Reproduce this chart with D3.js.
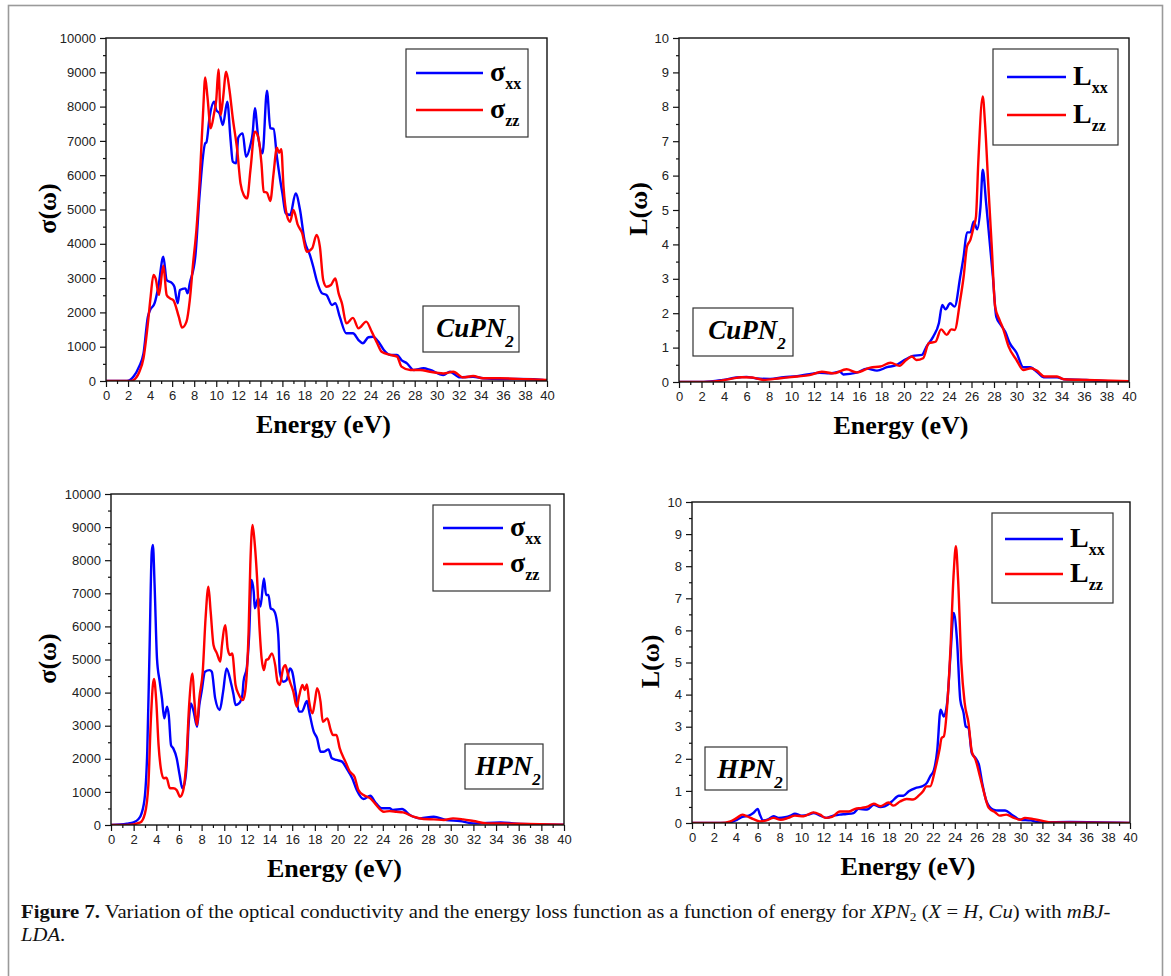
<!DOCTYPE html>
<html>
<head>
<meta charset="utf-8">
<script src="https://cdn.jsdelivr.net/npm/d3@7"></script>
<style>
  html, body { margin: 0; padding: 0; background: #fff; }
  svg { display: block; }
</style>
</head>
<body>
<svg id="fig" width="1171" height="976"></svg>
<script>
// ---- Optical conductivity, CuPN2 (energy eV, sigma) ----
const cuSigmaXX = [[0,0],[1.9,0],[2.5,130],[3.0,420],[3.4,800],[3.8,1875],[4.0,2070],[4.4,2260],[4.75,2750],[5.2,3625],[5.5,2945],[6.0,2850],[6.2,2750],[6.5,2265],[6.7,2650],[7.2,2700],[7.4,2555],[7.6,2850],[8.1,3625],[8.5,5470],[9.0,6930],[9.1,6950],[9.4,7700],[9.8,8145],[10.0,7900],[10.3,7800],[10.6,7460],[11.0,8145],[11.3,7025],[11.5,6395],[11.8,6345],[12.0,7100],[12.4,7220],[12.7,6540],[13.1,6880],[13.3,7220],[13.5,7950],[13.8,7120],[14.2,6640],[14.6,8465],[14.9,7370],[15.2,7350],[15.5,6540],[15.8,5860],[16.0,5470],[16.3,4890],[16.7,4840],[17.2,5470],[17.6,4985],[18.0,4110],[18.5,3670],[18.8,3330],[19.1,2945],[19.6,2555],[20.0,2510],[20.5,2215],[20.8,2265],[21.2,1875],[21.8,1390],[22.4,1390],[22.9,1195],[23.3,1100],[23.8,1275],[24.2,1290],[24.7,1150],[25.2,905],[25.8,760],[26.4,760],[26.8,610],[27.3,515],[27.9,320],[28.8,370],[29.4,320],[30.6,175],[31.2,270],[32.1,105],[33.3,125],[34.2,80],[35.7,60],[37.2,60],[38.8,50],[40,10]];
const cuSigmaZZ = [[0,0],[2.2,0],[2.5,30],[3.0,250],[3.4,660],[3.8,1680],[4.05,2460],[4.3,3090],[4.5,2990],[4.8,2510],[5.2,3360],[5.5,2510],[5.8,2410],[6.1,2360],[6.6,1875],[6.9,1555],[7.3,1730],[7.6,2360],[7.9,3430],[8.2,4400],[8.5,5860],[8.8,7800],[9.0,8850],[9.2,8290],[9.5,7370],[9.8,7800],[10.0,8190],[10.2,9085],[10.4,7755],[10.6,8190],[10.9,9020],[11.2,8485],[11.5,7660],[11.9,6735],[12.2,5760],[12.5,5420],[12.8,5325],[13.1,6150],[13.5,7270],[13.8,7120],[14.1,6345],[14.3,5520],[14.6,5490],[14.9,5250],[15.2,6055],[15.5,6800],[15.7,6655],[15.9,6755],[16.1,5665],[16.4,4840],[16.7,4645],[17.0,4985],[17.4,4550],[17.8,4305],[18.2,3770],[18.7,3870],[19.1,4255],[19.4,3915],[19.7,2945],[20.0,2750],[20.4,2800],[20.8,2990],[21.1,2555],[21.4,2265],[21.8,1680],[22.4,1840],[22.9,1535],[23.6,1730],[24.1,1440],[24.6,1100],[25.0,855],[25.8,760],[26.4,710],[26.8,420],[27.6,320],[28.5,320],[29.4,270],[30.0,240],[30.6,220],[31.5,270],[32.4,105],[33.3,145],[34.2,80],[35.7,80],[38.2,50],[40,30]];

// ---- Energy loss function, CuPN2 ----
const cuLossXX = [[0,0],[2.2,0],[3.9,0.06],[5.1,0.13],[6.0,0.15],[6.9,0.10],[8.1,0.09],[9.3,0.14],[10.5,0.17],[11.6,0.23],[12.5,0.27],[13.4,0.25],[14.3,0.30],[14.6,0.22],[15.8,0.27],[16.7,0.39],[17.6,0.33],[18.5,0.43],[19.3,0.49],[19.9,0.61],[20.8,0.76],[21.6,0.79],[22.0,1.03],[22.6,1.32],[23.1,1.71],[23.4,2.24],[23.7,2.11],[24.1,2.29],[24.5,2.19],[25.0,3.06],[25.3,3.65],[25.6,4.35],[25.9,4.35],[26.2,4.67],[26.5,4.44],[26.8,5.10],[27.0,6.17],[27.3,5.20],[27.6,4.13],[27.9,3.06],[28.2,1.90],[28.6,1.66],[29.0,1.46],[29.4,1.13],[30.0,0.85],[30.6,0.43],[31.2,0.43],[31.8,0.30],[32.4,0.14],[33.6,0.14],[34.2,0.08],[36.2,0.06],[37.7,0.03],[40,0.01]];
const cuLossZZ = [[0,0],[2.2,0],[3.6,0.03],[4.7,0.10],[5.6,0.14],[6.5,0.13],[7.5,0.06],[9.0,0.11],[10.5,0.16],[11.6,0.20],[12.7,0.30],[13.7,0.25],[14.9,0.37],[15.8,0.28],[17.0,0.42],[17.9,0.45],[18.8,0.56],[19.6,0.47],[20.2,0.64],[20.7,0.74],[21.1,0.64],[21.7,0.69],[22.2,1.13],[22.8,1.17],[23.3,1.53],[23.8,1.37],[24.2,1.53],[24.5,1.51],[25.0,2.39],[25.3,3.06],[25.6,3.94],[25.9,4.13],[26.2,4.52],[26.4,4.81],[26.6,6.36],[27.0,8.30],[27.2,7.53],[27.5,5.68],[27.8,3.94],[28.1,2.19],[28.5,1.80],[28.8,1.56],[29.3,1.03],[30.0,0.64],[30.6,0.35],[31.3,0.40],[31.8,0.33],[32.5,0.16],[33.6,0.16],[34.2,0.08],[36.2,0.06],[40,0.02]];

// ---- Optical conductivity, HPN2 ----
const hSigmaXX = [[0,0],[1.4,40],[2.0,80],[2.4,170],[2.7,350],[3.0,900],[3.2,2215],[3.4,5235],[3.6,8260],[3.7,8460],[3.85,7250],[4.06,5035],[4.3,4330],[4.5,3825],[4.7,3220],[4.95,3575],[5.1,3320],[5.3,2415],[5.5,2315],[5.8,2015],[6.06,1510],[6.3,1110],[6.5,1260],[6.7,1915],[6.85,3020],[7.06,3675],[7.3,3425],[7.6,2970],[7.8,3625],[8.0,4030],[8.3,4630],[8.7,4680],[8.9,4630],[9.2,3825],[9.6,3475],[9.9,4030],[10.2,4730],[10.6,4280],[10.8,3975],[11.0,3625],[11.3,3675],[11.6,3930],[11.7,4330],[12.0,4780],[12.2,5740],[12.4,7400],[12.6,7050],[12.7,6545],[13.0,6850],[13.2,6600],[13.5,7450],[13.7,6950],[13.9,6950],[14.1,6545],[14.35,6495],[14.6,6245],[14.8,5540],[14.9,4630],[15.2,4330],[15.5,4380],[15.8,4730],[16.0,4630],[16.3,4030],[16.6,3425],[16.85,3425],[17.3,3745],[17.5,3425],[17.9,2820],[18.2,2620],[18.5,2215],[18.8,2215],[19.2,2285],[19.5,2015],[19.9,1965],[20.4,1915],[20.8,1710],[21.3,1410],[21.7,1055],[22.3,785],[22.9,885],[23.3,705],[23.9,505],[24.6,505],[24.9,455],[25.7,485],[26.4,300],[27.3,200],[28.5,250],[29.6,150],[30.8,120],[32.0,50],[34.4,80],[35.8,40],[40,10]];
const hSigmaZZ = [[0,0],[1.4,0],[2.6,80],[3.0,350],[3.3,1210],[3.5,3020],[3.7,4230],[3.8,4410],[4.0,3725],[4.2,2415],[4.4,1710],[4.65,1410],[4.9,1430],[5.2,1110],[5.5,1110],[5.8,1055],[6.1,855],[6.35,1005],[6.65,1915],[6.9,3625],[7.2,4580],[7.35,3825],[7.6,3020],[7.8,3825],[8.1,4630],[8.35,6245],[8.6,7200],[8.8,6445],[9.05,5440],[9.35,5185],[9.65,4935],[9.8,5440],[10.1,6040],[10.3,5340],[10.5,5135],[10.7,5185],[11.0,4230],[11.3,3930],[11.65,3775],[11.85,4030],[12.15,5840],[12.3,7855],[12.5,9065],[12.7,8460],[12.9,7450],[13.1,6040],[13.3,5035],[13.5,4680],[13.7,4985],[13.9,5015],[14.2,5185],[14.5,4830],[14.7,4330],[14.9,4230],[15.2,4730],[15.4,4830],[15.6,4580],[15.8,4330],[16.1,4030],[16.4,3575],[16.6,3875],[16.9,4230],[17.1,4080],[17.3,4250],[17.5,3725],[17.8,3375],[18.0,3725],[18.2,4130],[18.5,3725],[18.7,3120],[19.1,3220],[19.4,2870],[19.6,2720],[19.9,2720],[20.2,2315],[20.7,1915],[21.1,1610],[21.5,1460],[21.85,1055],[22.3,905],[22.9,805],[23.3,655],[24.1,400],[24.6,420],[25.2,400],[25.8,380],[26.7,250],[27.6,180],[28.5,170],[29.4,150],[30.2,200],[31.1,170],[32.0,120],[33.2,50],[35.8,40],[40,10]];

// ---- Energy loss function, HPN2 ----
const hLossXX = [[0,0],[2.9,0],[3.5,0.02],[4.1,0.10],[4.6,0.19],[5.2,0.23],[5.6,0.31],[6.0,0.44],[6.2,0.26],[6.5,0.08],[7.0,0.12],[7.45,0.21],[7.9,0.16],[8.5,0.18],[9.0,0.23],[9.4,0.29],[10.0,0.23],[10.65,0.26],[11.1,0.31],[11.7,0.23],[12.3,0.16],[12.9,0.23],[13.5,0.26],[14.1,0.28],[14.75,0.31],[15.2,0.44],[16.0,0.42],[16.6,0.57],[17.2,0.50],[17.6,0.52],[18.25,0.67],[18.9,0.85],[19.3,0.85],[19.8,0.99],[20.4,1.09],[21.0,1.14],[21.45,1.25],[21.75,1.45],[22.1,1.66],[22.4,2.28],[22.7,3.53],[23.0,3.32],[23.3,3.74],[23.6,5.19],[23.9,6.54],[24.2,5.71],[24.5,3.84],[24.8,3.43],[25.0,3.01],[25.25,2.96],[25.55,2.18],[25.9,2.02],[26.2,1.82],[26.5,1.25],[26.9,0.67],[27.5,0.42],[28.0,0.39],[28.6,0.39],[29.2,0.26],[30.0,0.10],[30.9,0.08],[31.8,0.02],[34.5,0.03],[40,0]];
const hLossZZ = [[0,0],[2.6,0],[3.5,0.05],[4.1,0.16],[4.6,0.26],[5.0,0.21],[5.6,0.12],[6.2,0.05],[6.8,0.08],[7.45,0.16],[8.1,0.10],[8.8,0.16],[9.4,0.23],[10.2,0.21],[11.1,0.33],[11.7,0.26],[12.2,0.16],[12.8,0.19],[13.5,0.36],[14.3,0.36],[14.9,0.44],[15.5,0.47],[16.1,0.52],[16.6,0.60],[17.2,0.52],[17.95,0.64],[18.4,0.54],[19.0,0.67],[19.6,0.75],[20.2,0.73],[20.7,0.85],[21.1,0.99],[21.4,1.14],[21.75,1.14],[22.2,1.66],[22.6,2.28],[22.8,2.65],[23.0,2.70],[23.3,3.63],[23.6,5.40],[23.9,7.79],[24.1,8.62],[24.3,7.58],[24.6,4.98],[24.9,3.74],[25.25,3.12],[25.55,2.23],[25.9,1.97],[26.3,1.45],[26.6,1.04],[27.1,0.47],[27.7,0.33],[28.1,0.23],[28.7,0.26],[29.4,0.16],[30.0,0.10],[30.4,0.16],[31.2,0.12],[31.8,0.08],[32.7,0.02],[40,0]];

// ---- Axis ticks ----
const energyTicks = d3.range(0, 41, 2);
const energyMinor = d3.range(1, 40, 2);
const sigmaTicks = d3.range(0, 10001, 1000);
const sigmaMinor = d3.range(500, 10000, 1000);
const lossTicks = d3.range(0, 11, 1);
const lossMinor = d3.range(0.5, 10, 1);

const BLUE = "#0000ff", RED = "#ff0000";
const svg = d3.select("#fig");

// page frame
svg.append("rect").attr("x", 8.5).attr("y", 5.5).attr("width", 1154).attr("height", 1000)
  .attr("fill", "none").attr("stroke", "#9a9a9a").attr("stroke-width", 1.6);

const panels = [
  { box: [106, 547, 38, 381], yMax: 10000, yTicks: sigmaTicks, yMinor: sigmaMinor,
    series: [cuSigmaXX, cuSigmaZZ], sym: "σ", yTitle: "σ(ω)", yTitleX: 47,
    legend: [406, 528, 49, 137], lineX: [416, 483], lineY: [73, 110],
    tag: "CuPN", tagBox: [423, 519, 306, 352] },
  { box: [679, 1129, 38, 382], yMax: 10, yTicks: lossTicks, yMinor: lossMinor,
    series: [cuLossXX, cuLossZZ], sym: "L", yTitle: "L(ω)", yTitleX: 638,
    legend: [993, 1118, 49, 145], lineX: [1007, 1066], lineY: [77, 115],
    tag: "CuPN", tagBox: [693, 793, 308, 356] },
  { box: [111, 564, 494, 825], yMax: 10000, yTicks: sigmaTicks, yMinor: sigmaMinor,
    series: [hSigmaXX, hSigmaZZ], sym: "σ", yTitle: "σ(ω)", yTitleX: 47,
    legend: [433, 550, 505, 591], lineX: [443, 503], lineY: [528, 564],
    tag: "HPN", tagBox: [465, 543, 744, 789] },
  { box: [692, 1130, 502, 823], yMax: 10, yTicks: lossTicks, yMinor: lossMinor,
    series: [hLossXX, hLossZZ], sym: "L", yTitle: "L(ω)", yTitleX: 650,
    legend: [992, 1113, 513, 603], lineX: [1005, 1063], lineY: [539, 574],
    tag: "HPN", tagBox: [705, 787, 747, 790] }
];

const serif = "'Liberation Serif', 'Times New Roman', serif";
const sans = "'Liberation Sans', Arial, sans-serif";

panels.forEach(p => {
  const [x0, x1, y0, y1] = p.box;
  const x = d3.scaleLinear().domain([0, 40]).range([x0, x1]);
  const y = d3.scaleLinear().domain([0, p.yMax]).range([y1, y0]);
  const g = svg.append("g");

  // clip curves to the plot frame
  const cid = "clip" + x0 + "_" + y0;
  g.append("clipPath").attr("id", cid).append("rect")
    .attr("x", x0).attr("y", y0 - 2).attr("width", x1 - x0).attr("height", y1 - y0 + 2);

  const line = d3.line().x(d => x(d[0])).y(d => y(d[1])).curve(d3.curveMonotoneX);
  const cg = g.append("g").attr("clip-path", `url(#${cid})`);
  p.series.forEach((s, i) => {
    cg.append("path").datum(s).attr("d", line)
      .attr("fill", "none").attr("stroke", i === 0 ? BLUE : RED)
      .attr("stroke-width", 2.4).attr("stroke-linejoin", "round");
  });

  // minor ticks
  const xMinor = g.append("g").attr("transform", `translate(0,${y1})`)
    .call(d3.axisBottom(x).tickValues(energyMinor).tickSize(3).tickFormat(""));
  const yMinorG = g.append("g").attr("transform", `translate(${x0},0)`)
    .call(d3.axisLeft(y).tickValues(p.yMinor).tickSize(3).tickFormat(""));
  // major ticks with labels
  const xAx = g.append("g").attr("transform", `translate(0,${y1})`)
    .call(d3.axisBottom(x).tickValues(energyTicks).tickSize(6).tickPadding(4).tickFormat(d3.format("d")));
  const yAx = g.append("g").attr("transform", `translate(${x0},0)`)
    .call(d3.axisLeft(y).tickValues(p.yTicks).tickSize(6).tickPadding(4).tickFormat(d3.format("d")));
  [xMinor, yMinorG, xAx, yAx].forEach(a => {
    a.select(".domain").remove();
    a.selectAll("line").attr("stroke", "#111").attr("stroke-width", 1.2);
    a.selectAll("text").attr("font-family", sans).attr("font-size", 13).attr("fill", "#222");
  });

  // frame
  g.append("rect").attr("x", x0).attr("y", y0).attr("width", x1 - x0).attr("height", y1 - y0)
    .attr("fill", "none").attr("stroke", "#111").attr("stroke-width", 1.4);

  // axis titles
  g.append("text").attr("x", (x0 + x1) / 2 - 3).attr("y", y1 + 52)
    .attr("text-anchor", "middle").attr("font-family", serif).attr("font-weight", "bold")
    .attr("font-size", 26).text("Energy (eV)");
  const ym = (y0 + y1) / 2 - 1;
  g.append("text").attr("transform", `translate(${p.yTitleX + 9},${ym}) rotate(-90)`)
    .attr("text-anchor", "middle").attr("font-family", serif).attr("font-weight", "bold")
    .attr("font-size", 26).text(p.yTitle);

  // legend
  const [lx0, lx1, ly0, ly1] = p.legend;
  g.append("rect").attr("x", lx0).attr("y", ly0).attr("width", lx1 - lx0).attr("height", ly1 - ly0)
    .attr("fill", "#fff").attr("stroke", "#333").attr("stroke-width", 1.2);
  ["xx", "zz"].forEach((sub, i) => {
    const ly = p.lineY[i];
    g.append("line").attr("x1", p.lineX[0]).attr("x2", p.lineX[1]).attr("y1", ly).attr("y2", ly)
      .attr("stroke", i === 0 ? BLUE : RED).attr("stroke-width", 2.6);
    const t = g.append("text").attr("x", p.lineX[1] + 7).attr("y", ly + 8)
      .attr("font-family", serif).attr("font-weight", "bold");
    t.append("tspan").attr("font-size", 28).text(p.sym);
    t.append("tspan").attr("font-size", 16).attr("dy", 8).text(sub);
  });

  // compound tag
  const [tx0, tx1, ty0, ty1] = p.tagBox;
  g.append("rect").attr("x", tx0).attr("y", ty0).attr("width", tx1 - tx0).attr("height", ty1 - ty0)
    .attr("fill", "#fff").attr("stroke", "#333").attr("stroke-width", 1.2);
  const tt = g.append("text").attr("x", (tx0 + tx1) / 2 + 4).attr("y", ty0 + 31)
    .attr("text-anchor", "middle").attr("font-family", serif)
    .attr("font-weight", "bold").attr("font-style", "italic");
  tt.append("tspan").attr("font-size", 27).text(p.tag);
  tt.append("tspan").attr("font-size", 17).attr("dy", 10).text("2");
});

// caption
const cap = svg.append("g");
const capSize = 18.5;
const l1 = cap.append("text").attr("x", 0).attr("y", 0)
  .attr("font-family", serif).attr("font-size", capSize).attr("fill", "#111");
l1.append("tspan").attr("font-weight", "bold").text("Figure 7.");
l1.append("tspan").text(" Variation of the optical conductivity and the energy loss function as a function of energy for ");
l1.append("tspan").attr("font-style", "italic").text("XPN");
l1.append("tspan").attr("font-size", 12).attr("dy", 3).text("2");
l1.append("tspan").attr("dy", -3).text(" (");
l1.append("tspan").attr("font-style", "italic").text("X");
l1.append("tspan").text(" = ");
l1.append("tspan").attr("font-style", "italic").text("H");
l1.append("tspan").text(", ");
l1.append("tspan").attr("font-style", "italic").text("Cu");
l1.append("tspan").text(") with ");
l1.append("tspan").attr("font-style", "italic").text("mBJ-");
const w1 = l1.node().getComputedTextLength();
const sx = (1111 - 21) / w1;
l1.attr("transform", `translate(21,918) scale(${sx},1)`);
cap.append("text").attr("transform", `translate(21,941) scale(${sx},1)`)
  .attr("font-family", serif).attr("font-size", capSize).attr("fill", "#111")
  .call(t => { t.append("tspan").attr("font-style", "italic").text("LDA"); t.append("tspan").text("."); });
</script>
</body>
</html>
